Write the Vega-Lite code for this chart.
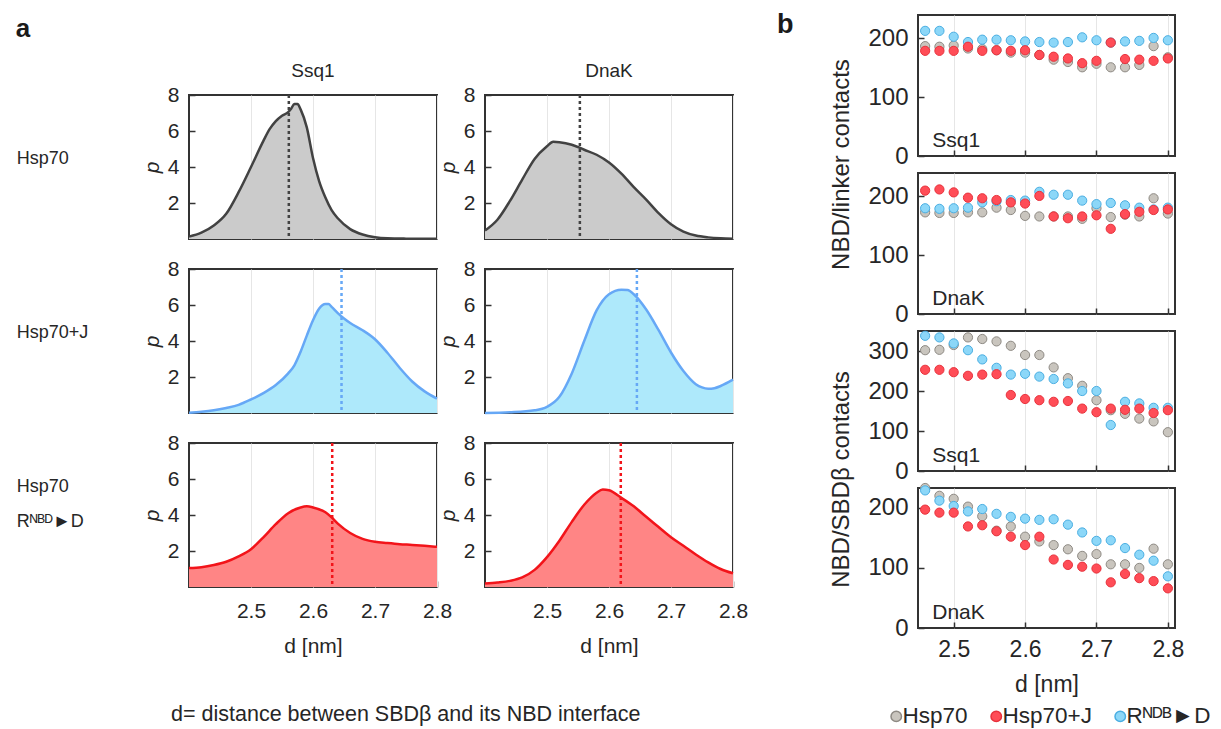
{
  "$schema": "https://vega.github.io/schema/vega-lite/v6.json",
  "background": "white",
  "padding": {"left": 15, "top": 11, "right": 5, "bottom": 5},
  "config": {
    "font": "Liberation Sans",
    "view": {"stroke": "#333333", "strokeWidth": 2},
    "axis": {"labelFontSize": 21, "titleFontSize": 21, "labelColor": "#262626", "titleColor": "#262626", "titleFontWeight": "normal", "gridColor": "#e6e6e6", "tickColor": "#333333", "tickSize": -6, "tickWidth": 1.5, "labelPadding": 16, "domain": false, "labelFlush": false},
    "axisY": {"grid": false},
    "axisX": {"grid": true},
    "header": {"labelColor": "#262626", "titleColor": "#262626"},
    "legend": {"labelColor": "#262626"}
  },
  "resolve": {"scale": {"fill": "independent", "stroke": "independent"}},
  "spacing": 28,
  "hconcat": [
    {
      "spacing": 0,
      "vconcat": [
        {
          "width": 10, "height": 1,
          "view": {"stroke": null},
          "data": {"values": [{"v": 0}]},
          "mark": {"type": "point", "size": 0, "opacity": 0},
          "encoding": {}
        },
        {
          "title": {"text": "a", "anchor": "start", "fontSize": 26, "fontWeight": "bold", "offset": 20, "color": "#1a1a1a"},
          "data": {"values": [
            {"cond": "Hsp70", "prot": "Ssq1", "d": 2.40, "p": 0.13},
            {"cond": "Hsp70", "prot": "Ssq1", "d": 2.42, "p": 0.35},
            {"cond": "Hsp70", "prot": "Ssq1", "d": 2.44, "p": 0.75},
            {"cond": "Hsp70", "prot": "Ssq1", "d": 2.46, "p": 1.4},
            {"cond": "Hsp70", "prot": "Ssq1", "d": 2.48, "p": 2.6},
            {"cond": "Hsp70", "prot": "Ssq1", "d": 2.50, "p": 4.0},
            {"cond": "Hsp70", "prot": "Ssq1", "d": 2.52, "p": 5.45},
            {"cond": "Hsp70", "prot": "Ssq1", "d": 2.53, "p": 6.1},
            {"cond": "Hsp70", "prot": "Ssq1", "d": 2.54, "p": 6.55},
            {"cond": "Hsp70", "prot": "Ssq1", "d": 2.55, "p": 6.85},
            {"cond": "Hsp70", "prot": "Ssq1", "d": 2.56, "p": 7.05},
            {"cond": "Hsp70", "prot": "Ssq1", "d": 2.565, "p": 7.25},
            {"cond": "Hsp70", "prot": "Ssq1", "d": 2.57, "p": 7.5},
            {"cond": "Hsp70", "prot": "Ssq1", "d": 2.575, "p": 7.5},
            {"cond": "Hsp70", "prot": "Ssq1", "d": 2.58, "p": 7.2},
            {"cond": "Hsp70", "prot": "Ssq1", "d": 2.59, "p": 6.2},
            {"cond": "Hsp70", "prot": "Ssq1", "d": 2.60, "p": 4.5},
            {"cond": "Hsp70", "prot": "Ssq1", "d": 2.61, "p": 3.2},
            {"cond": "Hsp70", "prot": "Ssq1", "d": 2.62, "p": 2.3},
            {"cond": "Hsp70", "prot": "Ssq1", "d": 2.63, "p": 1.6},
            {"cond": "Hsp70", "prot": "Ssq1", "d": 2.64, "p": 1.15},
            {"cond": "Hsp70", "prot": "Ssq1", "d": 2.66, "p": 0.55},
            {"cond": "Hsp70", "prot": "Ssq1", "d": 2.68, "p": 0.25},
            {"cond": "Hsp70", "prot": "Ssq1", "d": 2.70, "p": 0.1},
            {"cond": "Hsp70", "prot": "Ssq1", "d": 2.72, "p": 0.04},
            {"cond": "Hsp70", "prot": "Ssq1", "d": 2.75, "p": 0.02},
            {"cond": "Hsp70", "prot": "Ssq1", "d": 2.80, "p": 0.01},
            {"cond": "Hsp70", "prot": "DnaK", "d": 2.40, "p": 0.47},
            {"cond": "Hsp70", "prot": "DnaK", "d": 2.42, "p": 1.07},
            {"cond": "Hsp70", "prot": "DnaK", "d": 2.44, "p": 2.1},
            {"cond": "Hsp70", "prot": "DnaK", "d": 2.46, "p": 3.3},
            {"cond": "Hsp70", "prot": "DnaK", "d": 2.48, "p": 4.45},
            {"cond": "Hsp70", "prot": "DnaK", "d": 2.50, "p": 5.15},
            {"cond": "Hsp70", "prot": "DnaK", "d": 2.51, "p": 5.4},
            {"cond": "Hsp70", "prot": "DnaK", "d": 2.52, "p": 5.38},
            {"cond": "Hsp70", "prot": "DnaK", "d": 2.54, "p": 5.24},
            {"cond": "Hsp70", "prot": "DnaK", "d": 2.56, "p": 4.96},
            {"cond": "Hsp70", "prot": "DnaK", "d": 2.58, "p": 4.68},
            {"cond": "Hsp70", "prot": "DnaK", "d": 2.60, "p": 4.25},
            {"cond": "Hsp70", "prot": "DnaK", "d": 2.62, "p": 3.63},
            {"cond": "Hsp70", "prot": "DnaK", "d": 2.64, "p": 2.88},
            {"cond": "Hsp70", "prot": "DnaK", "d": 2.66, "p": 2.19},
            {"cond": "Hsp70", "prot": "DnaK", "d": 2.68, "p": 1.44},
            {"cond": "Hsp70", "prot": "DnaK", "d": 2.70, "p": 0.82},
            {"cond": "Hsp70", "prot": "DnaK", "d": 2.72, "p": 0.41},
            {"cond": "Hsp70", "prot": "DnaK", "d": 2.74, "p": 0.19},
            {"cond": "Hsp70", "prot": "DnaK", "d": 2.76, "p": 0.09},
            {"cond": "Hsp70", "prot": "DnaK", "d": 2.78, "p": 0.04},
            {"cond": "Hsp70", "prot": "DnaK", "d": 2.80, "p": 0.02},
            {"cond": "Hsp70+J", "prot": "Ssq1", "d": 2.40, "p": 0.02},
            {"cond": "Hsp70+J", "prot": "Ssq1", "d": 2.42, "p": 0.07},
            {"cond": "Hsp70+J", "prot": "Ssq1", "d": 2.44, "p": 0.15},
            {"cond": "Hsp70+J", "prot": "Ssq1", "d": 2.46, "p": 0.28},
            {"cond": "Hsp70+J", "prot": "Ssq1", "d": 2.48, "p": 0.45},
            {"cond": "Hsp70+J", "prot": "Ssq1", "d": 2.50, "p": 0.75},
            {"cond": "Hsp70+J", "prot": "Ssq1", "d": 2.52, "p": 1.1},
            {"cond": "Hsp70+J", "prot": "Ssq1", "d": 2.54, "p": 1.55},
            {"cond": "Hsp70+J", "prot": "Ssq1", "d": 2.56, "p": 2.2},
            {"cond": "Hsp70+J", "prot": "Ssq1", "d": 2.57, "p": 2.65},
            {"cond": "Hsp70+J", "prot": "Ssq1", "d": 2.58, "p": 3.4},
            {"cond": "Hsp70+J", "prot": "Ssq1", "d": 2.59, "p": 4.3},
            {"cond": "Hsp70+J", "prot": "Ssq1", "d": 2.60, "p": 5.15},
            {"cond": "Hsp70+J", "prot": "Ssq1", "d": 2.61, "p": 5.8},
            {"cond": "Hsp70+J", "prot": "Ssq1", "d": 2.62, "p": 6.05},
            {"cond": "Hsp70+J", "prot": "Ssq1", "d": 2.625, "p": 6.05},
            {"cond": "Hsp70+J", "prot": "Ssq1", "d": 2.63, "p": 5.9},
            {"cond": "Hsp70+J", "prot": "Ssq1", "d": 2.64, "p": 5.55},
            {"cond": "Hsp70+J", "prot": "Ssq1", "d": 2.65, "p": 5.25},
            {"cond": "Hsp70+J", "prot": "Ssq1", "d": 2.66, "p": 5.0},
            {"cond": "Hsp70+J", "prot": "Ssq1", "d": 2.68, "p": 4.6},
            {"cond": "Hsp70+J", "prot": "Ssq1", "d": 2.70, "p": 4.1},
            {"cond": "Hsp70+J", "prot": "Ssq1", "d": 2.72, "p": 3.35},
            {"cond": "Hsp70+J", "prot": "Ssq1", "d": 2.74, "p": 2.5},
            {"cond": "Hsp70+J", "prot": "Ssq1", "d": 2.76, "p": 1.75},
            {"cond": "Hsp70+J", "prot": "Ssq1", "d": 2.78, "p": 1.2},
            {"cond": "Hsp70+J", "prot": "Ssq1", "d": 2.80, "p": 0.8},
            {"cond": "Hsp70+J", "prot": "DnaK", "d": 2.40, "p": 0.0},
            {"cond": "Hsp70+J", "prot": "DnaK", "d": 2.44, "p": 0.04},
            {"cond": "Hsp70+J", "prot": "DnaK", "d": 2.48, "p": 0.15},
            {"cond": "Hsp70+J", "prot": "DnaK", "d": 2.50, "p": 0.34},
            {"cond": "Hsp70+J", "prot": "DnaK", "d": 2.52, "p": 0.9},
            {"cond": "Hsp70+J", "prot": "DnaK", "d": 2.54, "p": 2.2},
            {"cond": "Hsp70+J", "prot": "DnaK", "d": 2.56, "p": 4.0},
            {"cond": "Hsp70+J", "prot": "DnaK", "d": 2.58, "p": 5.7},
            {"cond": "Hsp70+J", "prot": "DnaK", "d": 2.60, "p": 6.6},
            {"cond": "Hsp70+J", "prot": "DnaK", "d": 2.62, "p": 6.85},
            {"cond": "Hsp70+J", "prot": "DnaK", "d": 2.63, "p": 6.84},
            {"cond": "Hsp70+J", "prot": "DnaK", "d": 2.64, "p": 6.6},
            {"cond": "Hsp70+J", "prot": "DnaK", "d": 2.66, "p": 5.75},
            {"cond": "Hsp70+J", "prot": "DnaK", "d": 2.68, "p": 4.6},
            {"cond": "Hsp70+J", "prot": "DnaK", "d": 2.70, "p": 3.36},
            {"cond": "Hsp70+J", "prot": "DnaK", "d": 2.72, "p": 2.33},
            {"cond": "Hsp70+J", "prot": "DnaK", "d": 2.74, "p": 1.6},
            {"cond": "Hsp70+J", "prot": "DnaK", "d": 2.75, "p": 1.42},
            {"cond": "Hsp70+J", "prot": "DnaK", "d": 2.76, "p": 1.35},
            {"cond": "Hsp70+J", "prot": "DnaK", "d": 2.77, "p": 1.38},
            {"cond": "Hsp70+J", "prot": "DnaK", "d": 2.78, "p": 1.5},
            {"cond": "Hsp70+J", "prot": "DnaK", "d": 2.80, "p": 1.85},
            {"cond": "Hsp70 Rᴺᴮᴰ►D", "prot": "Ssq1", "d": 2.40, "p": 1.05},
            {"cond": "Hsp70 Rᴺᴮᴰ►D", "prot": "Ssq1", "d": 2.42, "p": 1.1},
            {"cond": "Hsp70 Rᴺᴮᴰ►D", "prot": "Ssq1", "d": 2.44, "p": 1.22},
            {"cond": "Hsp70 Rᴺᴮᴰ►D", "prot": "Ssq1", "d": 2.46, "p": 1.4},
            {"cond": "Hsp70 Rᴺᴮᴰ►D", "prot": "Ssq1", "d": 2.48, "p": 1.7},
            {"cond": "Hsp70 Rᴺᴮᴰ►D", "prot": "Ssq1", "d": 2.50, "p": 2.1},
            {"cond": "Hsp70 Rᴺᴮᴰ►D", "prot": "Ssq1", "d": 2.52, "p": 2.76},
            {"cond": "Hsp70 Rᴺᴮᴰ►D", "prot": "Ssq1", "d": 2.54, "p": 3.49},
            {"cond": "Hsp70 Rᴺᴮᴰ►D", "prot": "Ssq1", "d": 2.56, "p": 4.1},
            {"cond": "Hsp70 Rᴺᴮᴰ►D", "prot": "Ssq1", "d": 2.58, "p": 4.42},
            {"cond": "Hsp70 Rᴺᴮᴰ►D", "prot": "Ssq1", "d": 2.59, "p": 4.48},
            {"cond": "Hsp70 Rᴺᴮᴰ►D", "prot": "Ssq1", "d": 2.60, "p": 4.42},
            {"cond": "Hsp70 Rᴺᴮᴰ►D", "prot": "Ssq1", "d": 2.62, "p": 4.15},
            {"cond": "Hsp70 Rᴺᴮᴰ►D", "prot": "Ssq1", "d": 2.63, "p": 3.87},
            {"cond": "Hsp70 Rᴺᴮᴰ►D", "prot": "Ssq1", "d": 2.64, "p": 3.52},
            {"cond": "Hsp70 Rᴺᴮᴰ►D", "prot": "Ssq1", "d": 2.66, "p": 3.0},
            {"cond": "Hsp70 Rᴺᴮᴰ►D", "prot": "Ssq1", "d": 2.68, "p": 2.67},
            {"cond": "Hsp70 Rᴺᴮᴰ►D", "prot": "Ssq1", "d": 2.70, "p": 2.51},
            {"cond": "Hsp70 Rᴺᴮᴰ►D", "prot": "Ssq1", "d": 2.72, "p": 2.44},
            {"cond": "Hsp70 Rᴺᴮᴰ►D", "prot": "Ssq1", "d": 2.74, "p": 2.38},
            {"cond": "Hsp70 Rᴺᴮᴰ►D", "prot": "Ssq1", "d": 2.76, "p": 2.34},
            {"cond": "Hsp70 Rᴺᴮᴰ►D", "prot": "Ssq1", "d": 2.78, "p": 2.29},
            {"cond": "Hsp70 Rᴺᴮᴰ►D", "prot": "Ssq1", "d": 2.80, "p": 2.23},
            {"cond": "Hsp70 Rᴺᴮᴰ►D", "prot": "DnaK", "d": 2.40, "p": 0.19},
            {"cond": "Hsp70 Rᴺᴮᴰ►D", "prot": "DnaK", "d": 2.42, "p": 0.25},
            {"cond": "Hsp70 Rᴺᴮᴰ►D", "prot": "DnaK", "d": 2.44, "p": 0.34},
            {"cond": "Hsp70 Rᴺᴮᴰ►D", "prot": "DnaK", "d": 2.46, "p": 0.53},
            {"cond": "Hsp70 Rᴺᴮᴰ►D", "prot": "DnaK", "d": 2.48, "p": 0.95},
            {"cond": "Hsp70 Rᴺᴮᴰ►D", "prot": "DnaK", "d": 2.50, "p": 1.66},
            {"cond": "Hsp70 Rᴺᴮᴰ►D", "prot": "DnaK", "d": 2.52, "p": 2.57},
            {"cond": "Hsp70 Rᴺᴮᴰ►D", "prot": "DnaK", "d": 2.54, "p": 3.62},
            {"cond": "Hsp70 Rᴺᴮᴰ►D", "prot": "DnaK", "d": 2.56, "p": 4.57},
            {"cond": "Hsp70 Rᴺᴮᴰ►D", "prot": "DnaK", "d": 2.58, "p": 5.24},
            {"cond": "Hsp70 Rᴺᴮᴰ►D", "prot": "DnaK", "d": 2.59, "p": 5.41},
            {"cond": "Hsp70 Rᴺᴮᴰ►D", "prot": "DnaK", "d": 2.60, "p": 5.37},
            {"cond": "Hsp70 Rᴺᴮᴰ►D", "prot": "DnaK", "d": 2.62, "p": 4.95},
            {"cond": "Hsp70 Rᴺᴮᴰ►D", "prot": "DnaK", "d": 2.64, "p": 4.48},
            {"cond": "Hsp70 Rᴺᴮᴰ►D", "prot": "DnaK", "d": 2.66, "p": 3.9},
            {"cond": "Hsp70 Rᴺᴮᴰ►D", "prot": "DnaK", "d": 2.68, "p": 3.33},
            {"cond": "Hsp70 Rᴺᴮᴰ►D", "prot": "DnaK", "d": 2.70, "p": 2.76},
            {"cond": "Hsp70 Rᴺᴮᴰ►D", "prot": "DnaK", "d": 2.72, "p": 2.29},
            {"cond": "Hsp70 Rᴺᴮᴰ►D", "prot": "DnaK", "d": 2.74, "p": 1.81},
            {"cond": "Hsp70 Rᴺᴮᴰ►D", "prot": "DnaK", "d": 2.76, "p": 1.37},
            {"cond": "Hsp70 Rᴺᴮᴰ►D", "prot": "DnaK", "d": 2.78, "p": 1.0},
            {"cond": "Hsp70 Rᴺᴮᴰ►D", "prot": "DnaK", "d": 2.80, "p": 0.76},
            {"cond": "Hsp70", "prot": "Ssq1", "mean": 2.561},
            {"cond": "Hsp70", "prot": "DnaK", "mean": 2.553},
            {"cond": "Hsp70+J", "prot": "Ssq1", "mean": 2.646},
            {"cond": "Hsp70+J", "prot": "DnaK", "mean": 2.645},
            {"cond": "Hsp70 Rᴺᴮᴰ►D", "prot": "Ssq1", "mean": 2.631},
            {"cond": "Hsp70 Rᴺᴮᴰ►D", "prot": "DnaK", "mean": 2.619}
          ]},
          "bounds": "flush",
          "spacing": {"row": 30, "column": 48},
          "resolve": {"axis": {"y": "independent"}},
          "facet": {
            "row": {"field": "cond", "type": "nominal", "sort": ["Hsp70", "Hsp70+J", "Hsp70 Rᴺᴮᴰ►D"], "title": null, "header": {"labels": false}},
            "column": {"field": "prot", "type": "nominal", "sort": ["Ssq1", "DnaK"], "title": null,
              "header": {"labelOrient": "top", "labelFontSize": 19, "labelPadding": 14}}
          },
          "spec": {
            "width": 248,
            "height": 144,
            "layer": [
              {
                "transform": [{"filter": "isValid(datum.p)"}],
                "mark": {"type": "area", "interpolate": "monotone"},
                "encoding": {
                  "x": {"field": "d", "type": "quantitative", "title": "d [nm]", "scale": {"domain": [2.4, 2.8], "nice": false}, "axis": {"values": [2.5, 2.6, 2.7, 2.8], "format": ".1f", "labelPadding": 19, "titlePadding": 14}},
                  "y": {"field": "p", "type": "quantitative", "title": "p", "scale": {"domain": [0, 8], "nice": false}, "axis": {"values": [2, 4, 6, 8], "titleFontStyle": "italic", "titlePadding": 5}},
                  "fill": {"field": "cond", "type": "nominal", "scale": {"domain": ["Hsp70", "Hsp70+J", "Hsp70 Rᴺᴮᴰ►D"], "range": ["#cbcbcb", "#aee9fb", "#ff8585"]}, "legend": null}
                }
              },
              {
                "transform": [{"filter": "isValid(datum.p)"}],
                "mark": {"type": "line", "interpolate": "monotone", "strokeWidth": 2.5},
                "encoding": {
                  "x": {"field": "d", "type": "quantitative", "title": "d [nm]"},
                  "y": {"field": "p", "type": "quantitative", "title": "p"},
                  "stroke": {"field": "cond", "type": "nominal", "scale": {"domain": ["Hsp70", "Hsp70+J", "Hsp70 Rᴺᴮᴰ►D"], "range": ["#424242", "#66a8f6", "#f2141a"]}, "legend": null}
                }
              },
              {
                "transform": [{"filter": "isValid(datum.mean)"}],
                "mark": {"type": "rule", "strokeDash": [3, 3], "strokeWidth": 2.5},
                "encoding": {
                  "x": {"field": "mean", "type": "quantitative", "title": "d [nm]"},
                  "stroke": {"field": "cond", "type": "nominal", "legend": null}
                }
              },
              {
                "transform": [{"filter": "isValid(datum.mean) && datum.prot == 'Ssq1' && datum.cond != 'Hsp70 Rᴺᴮᴰ►D'"}],
                "mark": {"type": "text", "align": "left", "baseline": "middle", "fontSize": 18, "color": "#262626"},
                "encoding": {
                  "x": {"datum": 2.122, "type": "quantitative"},
                  "y": {"datum": 4.45, "type": "quantitative"},
                  "text": {"field": "cond"}
                }
              },
              {
                "transform": [{"filter": "isValid(datum.mean) && datum.prot == 'Ssq1' && datum.cond == 'Hsp70 Rᴺᴮᴰ►D'"}],
                "mark": {"type": "text", "align": "left", "baseline": "middle", "fontSize": 18, "lineBreak": " ", "lineHeight": 35, "color": "#262626"},
                "encoding": {
                  "x": {"datum": 2.122, "type": "quantitative"},
                  "y": {"datum": 5.55, "type": "quantitative"},
                  "text": {"field": "cond"}
                }
              },
              {
                "transform": [{"filter": "isValid(datum.mean) && datum.prot == 'Ssq1' && datum.cond == 'Hsp70 Rᴺᴮᴰ►D'"}],
                "mark": {"type": "text", "align": "left", "baseline": "middle", "fontSize": 21.5, "color": "#262626"},
                "encoding": {
                  "x": {"datum": 2.371, "type": "quantitative"},
                  "y": {"datum": -7.1, "type": "quantitative"},
                  "text": {"value": "d= distance between SBDβ and its NBD interface"}
                }
              }
            ]
          }
        }
      ]
    },
    {
      "title": {"text": "b", "anchor": "start", "fontSize": 27, "fontWeight": "bold", "offset": -25, "dx": -52, "color": "#1a1a1a"},
      "bounds": "flush",
      "spacing": 17,
      "data": {"values": [
        {"pn": "L1", "s": "Hsp70", "d": 2.46, "c": 187}, {"pn": "L1", "s": "Hsp70", "d": 2.48, "c": 186}, {"pn": "L1", "s": "Hsp70", "d": 2.50, "c": 188}, {"pn": "L1", "s": "Hsp70", "d": 2.52, "c": 183}, {"pn": "L1", "s": "Hsp70", "d": 2.54, "c": 182}, {"pn": "L1", "s": "Hsp70", "d": 2.56, "c": 180}, {"pn": "L1", "s": "Hsp70", "d": 2.58, "c": 176}, {"pn": "L1", "s": "Hsp70", "d": 2.60, "c": 176}, {"pn": "L1", "s": "Hsp70", "d": 2.62, "c": 172}, {"pn": "L1", "s": "Hsp70", "d": 2.64, "c": 164}, {"pn": "L1", "s": "Hsp70", "d": 2.66, "c": 160}, {"pn": "L1", "s": "Hsp70", "d": 2.68, "c": 151}, {"pn": "L1", "s": "Hsp70", "d": 2.70, "c": 157}, {"pn": "L1", "s": "Hsp70", "d": 2.72, "c": 151}, {"pn": "L1", "s": "Hsp70", "d": 2.74, "c": 151}, {"pn": "L1", "s": "Hsp70", "d": 2.76, "c": 155}, {"pn": "L1", "s": "Hsp70", "d": 2.78, "c": 187}, {"pn": "L1", "s": "Hsp70", "d": 2.80, "c": 168},
        {"pn": "L1", "s": "Rᴺᴰᴮ►D", "d": 2.46, "c": 213}, {"pn": "L1", "s": "Rᴺᴰᴮ►D", "d": 2.48, "c": 213}, {"pn": "L1", "s": "Rᴺᴰᴮ►D", "d": 2.50, "c": 203}, {"pn": "L1", "s": "Rᴺᴰᴮ►D", "d": 2.52, "c": 194}, {"pn": "L1", "s": "Rᴺᴰᴮ►D", "d": 2.54, "c": 198}, {"pn": "L1", "s": "Rᴺᴰᴮ►D", "d": 2.56, "c": 198}, {"pn": "L1", "s": "Rᴺᴰᴮ►D", "d": 2.58, "c": 197}, {"pn": "L1", "s": "Rᴺᴰᴮ►D", "d": 2.60, "c": 195}, {"pn": "L1", "s": "Rᴺᴰᴮ►D", "d": 2.62, "c": 194}, {"pn": "L1", "s": "Rᴺᴰᴮ►D", "d": 2.64, "c": 193}, {"pn": "L1", "s": "Rᴺᴰᴮ►D", "d": 2.66, "c": 194}, {"pn": "L1", "s": "Rᴺᴰᴮ►D", "d": 2.68, "c": 202}, {"pn": "L1", "s": "Rᴺᴰᴮ►D", "d": 2.70, "c": 197}, {"pn": "L1", "s": "Rᴺᴰᴮ►D", "d": 2.72, "c": 193}, {"pn": "L1", "s": "Rᴺᴰᴮ►D", "d": 2.74, "c": 195}, {"pn": "L1", "s": "Rᴺᴰᴮ►D", "d": 2.76, "c": 196}, {"pn": "L1", "s": "Rᴺᴰᴮ►D", "d": 2.78, "c": 201}, {"pn": "L1", "s": "Rᴺᴰᴮ►D", "d": 2.80, "c": 197},
        {"pn": "L1", "s": "Hsp70+J", "d": 2.46, "c": 179}, {"pn": "L1", "s": "Hsp70+J", "d": 2.48, "c": 179}, {"pn": "L1", "s": "Hsp70+J", "d": 2.50, "c": 179}, {"pn": "L1", "s": "Hsp70+J", "d": 2.52, "c": 186}, {"pn": "L1", "s": "Hsp70+J", "d": 2.54, "c": 179}, {"pn": "L1", "s": "Hsp70+J", "d": 2.56, "c": 180}, {"pn": "L1", "s": "Hsp70+J", "d": 2.58, "c": 179}, {"pn": "L1", "s": "Hsp70+J", "d": 2.60, "c": 180}, {"pn": "L1", "s": "Hsp70+J", "d": 2.62, "c": 172}, {"pn": "L1", "s": "Hsp70+J", "d": 2.64, "c": 169}, {"pn": "L1", "s": "Hsp70+J", "d": 2.66, "c": 166}, {"pn": "L1", "s": "Hsp70+J", "d": 2.68, "c": 158}, {"pn": "L1", "s": "Hsp70+J", "d": 2.70, "c": 162}, {"pn": "L1", "s": "Hsp70+J", "d": 2.72, "c": 193}, {"pn": "L1", "s": "Hsp70+J", "d": 2.74, "c": 165}, {"pn": "L1", "s": "Hsp70+J", "d": 2.76, "c": 164}, {"pn": "L1", "s": "Hsp70+J", "d": 2.78, "c": 162}, {"pn": "L1", "s": "Hsp70+J", "d": 2.80, "c": 166},
        {"pn": "L2", "s": "Hsp70", "d": 2.46, "c": 173}, {"pn": "L2", "s": "Hsp70", "d": 2.48, "c": 172}, {"pn": "L2", "s": "Hsp70", "d": 2.50, "c": 172}, {"pn": "L2", "s": "Hsp70", "d": 2.52, "c": 173}, {"pn": "L2", "s": "Hsp70", "d": 2.54, "c": 173}, {"pn": "L2", "s": "Hsp70", "d": 2.56, "c": 181}, {"pn": "L2", "s": "Hsp70", "d": 2.58, "c": 177}, {"pn": "L2", "s": "Hsp70", "d": 2.60, "c": 167}, {"pn": "L2", "s": "Hsp70", "d": 2.62, "c": 166}, {"pn": "L2", "s": "Hsp70", "d": 2.64, "c": 166}, {"pn": "L2", "s": "Hsp70", "d": 2.66, "c": 166}, {"pn": "L2", "s": "Hsp70", "d": 2.68, "c": 162}, {"pn": "L2", "s": "Hsp70", "d": 2.70, "c": 180}, {"pn": "L2", "s": "Hsp70", "d": 2.72, "c": 165}, {"pn": "L2", "s": "Hsp70", "d": 2.74, "c": 169}, {"pn": "L2", "s": "Hsp70", "d": 2.76, "c": 166}, {"pn": "L2", "s": "Hsp70", "d": 2.78, "c": 197}, {"pn": "L2", "s": "Hsp70", "d": 2.80, "c": 171},
        {"pn": "L2", "s": "Rᴺᴰᴮ►D", "d": 2.46, "c": 180}, {"pn": "L2", "s": "Rᴺᴰᴮ►D", "d": 2.48, "c": 179}, {"pn": "L2", "s": "Rᴺᴰᴮ►D", "d": 2.50, "c": 180}, {"pn": "L2", "s": "Rᴺᴰᴮ►D", "d": 2.52, "c": 181}, {"pn": "L2", "s": "Rᴺᴰᴮ►D", "d": 2.54, "c": 190}, {"pn": "L2", "s": "Rᴺᴰᴮ►D", "d": 2.56, "c": 192}, {"pn": "L2", "s": "Rᴺᴰᴮ►D", "d": 2.58, "c": 194}, {"pn": "L2", "s": "Rᴺᴰᴮ►D", "d": 2.60, "c": 193}, {"pn": "L2", "s": "Rᴺᴰᴮ►D", "d": 2.62, "c": 208}, {"pn": "L2", "s": "Rᴺᴰᴮ►D", "d": 2.64, "c": 203}, {"pn": "L2", "s": "Rᴺᴰᴮ►D", "d": 2.66, "c": 203}, {"pn": "L2", "s": "Rᴺᴰᴮ►D", "d": 2.68, "c": 193}, {"pn": "L2", "s": "Rᴺᴰᴮ►D", "d": 2.70, "c": 187}, {"pn": "L2", "s": "Rᴺᴰᴮ►D", "d": 2.72, "c": 189}, {"pn": "L2", "s": "Rᴺᴰᴮ►D", "d": 2.74, "c": 185}, {"pn": "L2", "s": "Rᴺᴰᴮ►D", "d": 2.76, "c": 181}, {"pn": "L2", "s": "Rᴺᴰᴮ►D", "d": 2.78, "c": 178}, {"pn": "L2", "s": "Rᴺᴰᴮ►D", "d": 2.80, "c": 181},
        {"pn": "L2", "s": "Hsp70+J", "d": 2.46, "c": 210}, {"pn": "L2", "s": "Hsp70+J", "d": 2.48, "c": 212}, {"pn": "L2", "s": "Hsp70+J", "d": 2.50, "c": 207}, {"pn": "L2", "s": "Hsp70+J", "d": 2.52, "c": 198}, {"pn": "L2", "s": "Hsp70+J", "d": 2.54, "c": 197}, {"pn": "L2", "s": "Hsp70+J", "d": 2.56, "c": 194}, {"pn": "L2", "s": "Hsp70+J", "d": 2.58, "c": 190}, {"pn": "L2", "s": "Hsp70+J", "d": 2.60, "c": 188}, {"pn": "L2", "s": "Hsp70+J", "d": 2.62, "c": 201}, {"pn": "L2", "s": "Hsp70+J", "d": 2.64, "c": 166}, {"pn": "L2", "s": "Hsp70+J", "d": 2.66, "c": 163}, {"pn": "L2", "s": "Hsp70+J", "d": 2.68, "c": 166}, {"pn": "L2", "s": "Hsp70+J", "d": 2.70, "c": 168}, {"pn": "L2", "s": "Hsp70+J", "d": 2.72, "c": 145}, {"pn": "L2", "s": "Hsp70+J", "d": 2.74, "c": 170}, {"pn": "L2", "s": "Hsp70+J", "d": 2.76, "c": 174}, {"pn": "L2", "s": "Hsp70+J", "d": 2.78, "c": 177}, {"pn": "L2", "s": "Hsp70+J", "d": 2.80, "c": 178},
        {"pn": "S1", "s": "Hsp70", "d": 2.46, "c": 302}, {"pn": "S1", "s": "Hsp70", "d": 2.48, "c": 303}, {"pn": "S1", "s": "Hsp70", "d": 2.50, "c": 315}, {"pn": "S1", "s": "Hsp70", "d": 2.52, "c": 334}, {"pn": "S1", "s": "Hsp70", "d": 2.54, "c": 330}, {"pn": "S1", "s": "Hsp70", "d": 2.56, "c": 324}, {"pn": "S1", "s": "Hsp70", "d": 2.58, "c": 313}, {"pn": "S1", "s": "Hsp70", "d": 2.60, "c": 290}, {"pn": "S1", "s": "Hsp70", "d": 2.62, "c": 290}, {"pn": "S1", "s": "Hsp70", "d": 2.64, "c": 259}, {"pn": "S1", "s": "Hsp70", "d": 2.66, "c": 232}, {"pn": "S1", "s": "Hsp70", "d": 2.68, "c": 213}, {"pn": "S1", "s": "Hsp70", "d": 2.70, "c": 177}, {"pn": "S1", "s": "Hsp70", "d": 2.72, "c": 152}, {"pn": "S1", "s": "Hsp70", "d": 2.74, "c": 143}, {"pn": "S1", "s": "Hsp70", "d": 2.76, "c": 131}, {"pn": "S1", "s": "Hsp70", "d": 2.78, "c": 124}, {"pn": "S1", "s": "Hsp70", "d": 2.80, "c": 97},
        {"pn": "S1", "s": "Rᴺᴰᴮ►D", "d": 2.46, "c": 338}, {"pn": "S1", "s": "Rᴺᴰᴮ►D", "d": 2.48, "c": 334}, {"pn": "S1", "s": "Rᴺᴰᴮ►D", "d": 2.50, "c": 319}, {"pn": "S1", "s": "Rᴺᴰᴮ►D", "d": 2.52, "c": 302}, {"pn": "S1", "s": "Rᴺᴰᴮ►D", "d": 2.54, "c": 279}, {"pn": "S1", "s": "Rᴺᴰᴮ►D", "d": 2.56, "c": 258}, {"pn": "S1", "s": "Rᴺᴰᴮ►D", "d": 2.58, "c": 241}, {"pn": "S1", "s": "Rᴺᴰᴮ►D", "d": 2.60, "c": 243}, {"pn": "S1", "s": "Rᴺᴰᴮ►D", "d": 2.62, "c": 236}, {"pn": "S1", "s": "Rᴺᴰᴮ►D", "d": 2.64, "c": 230}, {"pn": "S1", "s": "Rᴺᴰᴮ►D", "d": 2.66, "c": 219}, {"pn": "S1", "s": "Rᴺᴰᴮ►D", "d": 2.68, "c": 200}, {"pn": "S1", "s": "Rᴺᴰᴮ►D", "d": 2.70, "c": 200}, {"pn": "S1", "s": "Rᴺᴰᴮ►D", "d": 2.72, "c": 115}, {"pn": "S1", "s": "Rᴺᴰᴮ►D", "d": 2.74, "c": 173}, {"pn": "S1", "s": "Rᴺᴰᴮ►D", "d": 2.76, "c": 169}, {"pn": "S1", "s": "Rᴺᴰᴮ►D", "d": 2.78, "c": 158}, {"pn": "S1", "s": "Rᴺᴰᴮ►D", "d": 2.80, "c": 158},
        {"pn": "S1", "s": "Hsp70+J", "d": 2.46, "c": 253}, {"pn": "S1", "s": "Hsp70+J", "d": 2.48, "c": 253}, {"pn": "S1", "s": "Hsp70+J", "d": 2.50, "c": 247}, {"pn": "S1", "s": "Hsp70+J", "d": 2.52, "c": 238}, {"pn": "S1", "s": "Hsp70+J", "d": 2.54, "c": 241}, {"pn": "S1", "s": "Hsp70+J", "d": 2.56, "c": 242}, {"pn": "S1", "s": "Hsp70+J", "d": 2.58, "c": 190}, {"pn": "S1", "s": "Hsp70+J", "d": 2.60, "c": 180}, {"pn": "S1", "s": "Hsp70+J", "d": 2.62, "c": 177}, {"pn": "S1", "s": "Hsp70+J", "d": 2.64, "c": 173}, {"pn": "S1", "s": "Hsp70+J", "d": 2.66, "c": 175}, {"pn": "S1", "s": "Hsp70+J", "d": 2.68, "c": 156}, {"pn": "S1", "s": "Hsp70+J", "d": 2.70, "c": 147}, {"pn": "S1", "s": "Hsp70+J", "d": 2.72, "c": 156}, {"pn": "S1", "s": "Hsp70+J", "d": 2.74, "c": 153}, {"pn": "S1", "s": "Hsp70+J", "d": 2.76, "c": 156}, {"pn": "S1", "s": "Hsp70+J", "d": 2.78, "c": 145}, {"pn": "S1", "s": "Hsp70+J", "d": 2.80, "c": 152},
        {"pn": "S2", "s": "Hsp70", "d": 2.46, "c": 233}, {"pn": "S2", "s": "Hsp70", "d": 2.48, "c": 220}, {"pn": "S2", "s": "Hsp70", "d": 2.50, "c": 215}, {"pn": "S2", "s": "Hsp70", "d": 2.52, "c": 202}, {"pn": "S2", "s": "Hsp70", "d": 2.54, "c": 186}, {"pn": "S2", "s": "Hsp70", "d": 2.56, "c": 162}, {"pn": "S2", "s": "Hsp70", "d": 2.58, "c": 169}, {"pn": "S2", "s": "Hsp70", "d": 2.60, "c": 152}, {"pn": "S2", "s": "Hsp70", "d": 2.62, "c": 144}, {"pn": "S2", "s": "Hsp70", "d": 2.64, "c": 138}, {"pn": "S2", "s": "Hsp70", "d": 2.66, "c": 131}, {"pn": "S2", "s": "Hsp70", "d": 2.68, "c": 120}, {"pn": "S2", "s": "Hsp70", "d": 2.70, "c": 123}, {"pn": "S2", "s": "Hsp70", "d": 2.72, "c": 106}, {"pn": "S2", "s": "Hsp70", "d": 2.74, "c": 106}, {"pn": "S2", "s": "Hsp70", "d": 2.76, "c": 100}, {"pn": "S2", "s": "Hsp70", "d": 2.78, "c": 132}, {"pn": "S2", "s": "Hsp70", "d": 2.80, "c": 106},
        {"pn": "S2", "s": "Rᴺᴰᴮ►D", "d": 2.46, "c": 229}, {"pn": "S2", "s": "Rᴺᴰᴮ►D", "d": 2.48, "c": 212}, {"pn": "S2", "s": "Rᴺᴰᴮ►D", "d": 2.50, "c": 203}, {"pn": "S2", "s": "Rᴺᴰᴮ►D", "d": 2.52, "c": 194}, {"pn": "S2", "s": "Rᴺᴰᴮ►D", "d": 2.54, "c": 198}, {"pn": "S2", "s": "Rᴺᴰᴮ►D", "d": 2.56, "c": 190}, {"pn": "S2", "s": "Rᴺᴰᴮ►D", "d": 2.58, "c": 185}, {"pn": "S2", "s": "Rᴺᴰᴮ►D", "d": 2.60, "c": 182}, {"pn": "S2", "s": "Rᴺᴰᴮ►D", "d": 2.62, "c": 180}, {"pn": "S2", "s": "Rᴺᴰᴮ►D", "d": 2.64, "c": 181}, {"pn": "S2", "s": "Rᴺᴰᴮ►D", "d": 2.66, "c": 172}, {"pn": "S2", "s": "Rᴺᴰᴮ►D", "d": 2.68, "c": 159}, {"pn": "S2", "s": "Rᴺᴰᴮ►D", "d": 2.70, "c": 145}, {"pn": "S2", "s": "Rᴺᴰᴮ►D", "d": 2.72, "c": 146}, {"pn": "S2", "s": "Rᴺᴰᴮ►D", "d": 2.74, "c": 133}, {"pn": "S2", "s": "Rᴺᴰᴮ►D", "d": 2.76, "c": 122}, {"pn": "S2", "s": "Rᴺᴰᴮ►D", "d": 2.78, "c": 112}, {"pn": "S2", "s": "Rᴺᴰᴮ►D", "d": 2.80, "c": 86},
        {"pn": "S2", "s": "Hsp70+J", "d": 2.46, "c": 197}, {"pn": "S2", "s": "Hsp70+J", "d": 2.48, "c": 192}, {"pn": "S2", "s": "Hsp70+J", "d": 2.50, "c": 192}, {"pn": "S2", "s": "Hsp70+J", "d": 2.52, "c": 169}, {"pn": "S2", "s": "Hsp70+J", "d": 2.54, "c": 171}, {"pn": "S2", "s": "Hsp70+J", "d": 2.56, "c": 161}, {"pn": "S2", "s": "Hsp70+J", "d": 2.58, "c": 152}, {"pn": "S2", "s": "Hsp70+J", "d": 2.60, "c": 138}, {"pn": "S2", "s": "Hsp70+J", "d": 2.62, "c": 152}, {"pn": "S2", "s": "Hsp70+J", "d": 2.64, "c": 114}, {"pn": "S2", "s": "Hsp70+J", "d": 2.66, "c": 105}, {"pn": "S2", "s": "Hsp70+J", "d": 2.68, "c": 102}, {"pn": "S2", "s": "Hsp70+J", "d": 2.70, "c": 99}, {"pn": "S2", "s": "Hsp70+J", "d": 2.72, "c": 76}, {"pn": "S2", "s": "Hsp70+J", "d": 2.74, "c": 90}, {"pn": "S2", "s": "Hsp70+J", "d": 2.76, "c": 83}, {"pn": "S2", "s": "Hsp70+J", "d": 2.78, "c": 78}, {"pn": "S2", "s": "Hsp70+J", "d": 2.80, "c": 66}
      ]},
      "vconcat": [
        {
          "width": 257, "height": 141,
          "layer": [
            {
              "transform": [{"filter": "datum.pn == 'L1'"}],
              "mark": {"type": "point", "filled": true, "size": 85, "strokeWidth": 1, "opacity": 1},
              "encoding": {
                "x": {"field": "d", "type": "quantitative", "scale": {"domain": [2.45, 2.81], "nice": false}, "axis": {"values": [2.5, 2.6, 2.7, 2.8], "labels": false, "title": null}},
                "y": {"field": "c", "type": "quantitative", "scale": {"domain": [0, 240], "nice": false}, "axis": {"values": [0, 100, 200], "title": "NBD/linker contacts", "titleY": 149, "labelFontSize": 24, "titleFontSize": 24, "titlePadding": 14}},
                "fill": {"field": "s", "type": "nominal", "title": null, "scale": {"domain": ["Hsp70", "Hsp70+J", "Rᴺᴰᴮ►D"], "range": ["#c9c5be", "#ff4d57", "#8cd7f8"]},
                  "legend": {"orient": "none", "legendX": -33, "legendY": 690, "direction": "horizontal", "labelFontSize": 22.5, "symbolSize": 110, "symbolStrokeWidth": 1.5, "columnPadding": 17, "labelOffset": -5, "labelLimit": 200}},
                "stroke": {"field": "s", "type": "nominal", "title": null, "scale": {"domain": ["Hsp70", "Hsp70+J", "Rᴺᴰᴮ►D"], "range": ["#8e8a84", "#e8323c", "#4aaee2"]},
                  "legend": {"orient": "none", "legendX": -33, "legendY": 690, "direction": "horizontal", "labelFontSize": 22.5, "symbolSize": 110, "symbolStrokeWidth": 1.5, "columnPadding": 17, "labelOffset": -5, "labelLimit": 200}}
              }
            },
            {
              "data": {"values": [{"t": "Ssq1"}]},
              "mark": {"type": "text", "align": "left", "baseline": "middle", "fontSize": 21, "color": "#262626"},
              "encoding": {"x": {"datum": 2.47, "type": "quantitative"}, "y": {"datum": 25, "type": "quantitative"}, "text": {"field": "t"}}
            }
          ]
        },
        {
          "width": 257, "height": 141,
          "layer": [
            {
              "transform": [{"filter": "datum.pn == 'L2'"}],
              "mark": {"type": "point", "filled": true, "size": 85, "strokeWidth": 1, "opacity": 1},
              "encoding": {
                "x": {"field": "d", "type": "quantitative", "scale": {"domain": [2.45, 2.81], "nice": false}, "axis": {"values": [2.5, 2.6, 2.7, 2.8], "labels": false, "title": null}},
                "y": {"field": "c", "type": "quantitative", "scale": {"domain": [0, 240], "nice": false}, "axis": {"values": [0, 100, 200], "title": null, "labelFontSize": 24}},
                "fill": {"field": "s", "type": "nominal", "title": null},
                "stroke": {"field": "s", "type": "nominal", "title": null}
              }
            },
            {
              "data": {"values": [{"t": "DnaK"}]},
              "mark": {"type": "text", "align": "left", "baseline": "middle", "fontSize": 21, "color": "#262626"},
              "encoding": {"x": {"datum": 2.47, "type": "quantitative"}, "y": {"datum": 25, "type": "quantitative"}, "text": {"field": "t"}}
            }
          ]
        },
        {
          "width": 257, "height": 140,
          "layer": [
            {
              "transform": [{"filter": "datum.pn == 'S1'"}],
              "mark": {"type": "point", "filled": true, "size": 85, "strokeWidth": 1, "opacity": 1},
              "encoding": {
                "x": {"field": "d", "type": "quantitative", "scale": {"domain": [2.45, 2.81], "nice": false}, "axis": {"values": [2.5, 2.6, 2.7, 2.8], "labels": false, "title": null}},
                "y": {"field": "c", "type": "quantitative", "scale": {"domain": [0, 350], "nice": false}, "axis": {"values": [0, 100, 200, 300], "title": "NBD/SBDβ contacts", "titleY": 148, "labelFontSize": 24, "titleFontSize": 24, "titlePadding": 14}},
                "fill": {"field": "s", "type": "nominal", "title": null},
                "stroke": {"field": "s", "type": "nominal", "title": null}
              }
            },
            {
              "data": {"values": [{"t": "Ssq1"}]},
              "mark": {"type": "text", "align": "left", "baseline": "middle", "fontSize": 21, "color": "#262626"},
              "encoding": {"x": {"datum": 2.47, "type": "quantitative"}, "y": {"datum": 37, "type": "quantitative"}, "text": {"field": "t"}}
            }
          ]
        },
        {
          "width": 257, "height": 140,
          "layer": [
            {
              "transform": [{"filter": "datum.pn == 'S2'"}],
              "mark": {"type": "point", "filled": true, "size": 85, "strokeWidth": 1, "opacity": 1},
              "encoding": {
                "x": {"field": "d", "type": "quantitative", "title": "d [nm]", "scale": {"domain": [2.45, 2.81], "nice": false}, "axis": {"values": [2.5, 2.6, 2.7, 2.8], "format": ".1f", "labelFontSize": 23, "titleFontSize": 23, "titlePadding": 12}},
                "y": {"field": "c", "type": "quantitative", "scale": {"domain": [0, 233], "nice": false}, "axis": {"values": [0, 100, 200], "title": null, "labelFontSize": 24}},
                "fill": {"field": "s", "type": "nominal", "title": null},
                "stroke": {"field": "s", "type": "nominal", "title": null}
              }
            },
            {
              "data": {"values": [{"t": "DnaK"}]},
              "mark": {"type": "text", "align": "left", "baseline": "middle", "fontSize": 21, "color": "#262626"},
              "encoding": {"x": {"datum": 2.47, "type": "quantitative"}, "y": {"datum": 25, "type": "quantitative"}, "text": {"field": "t"}}
            }
          ]
        }
      ]
    }
  ]
}
